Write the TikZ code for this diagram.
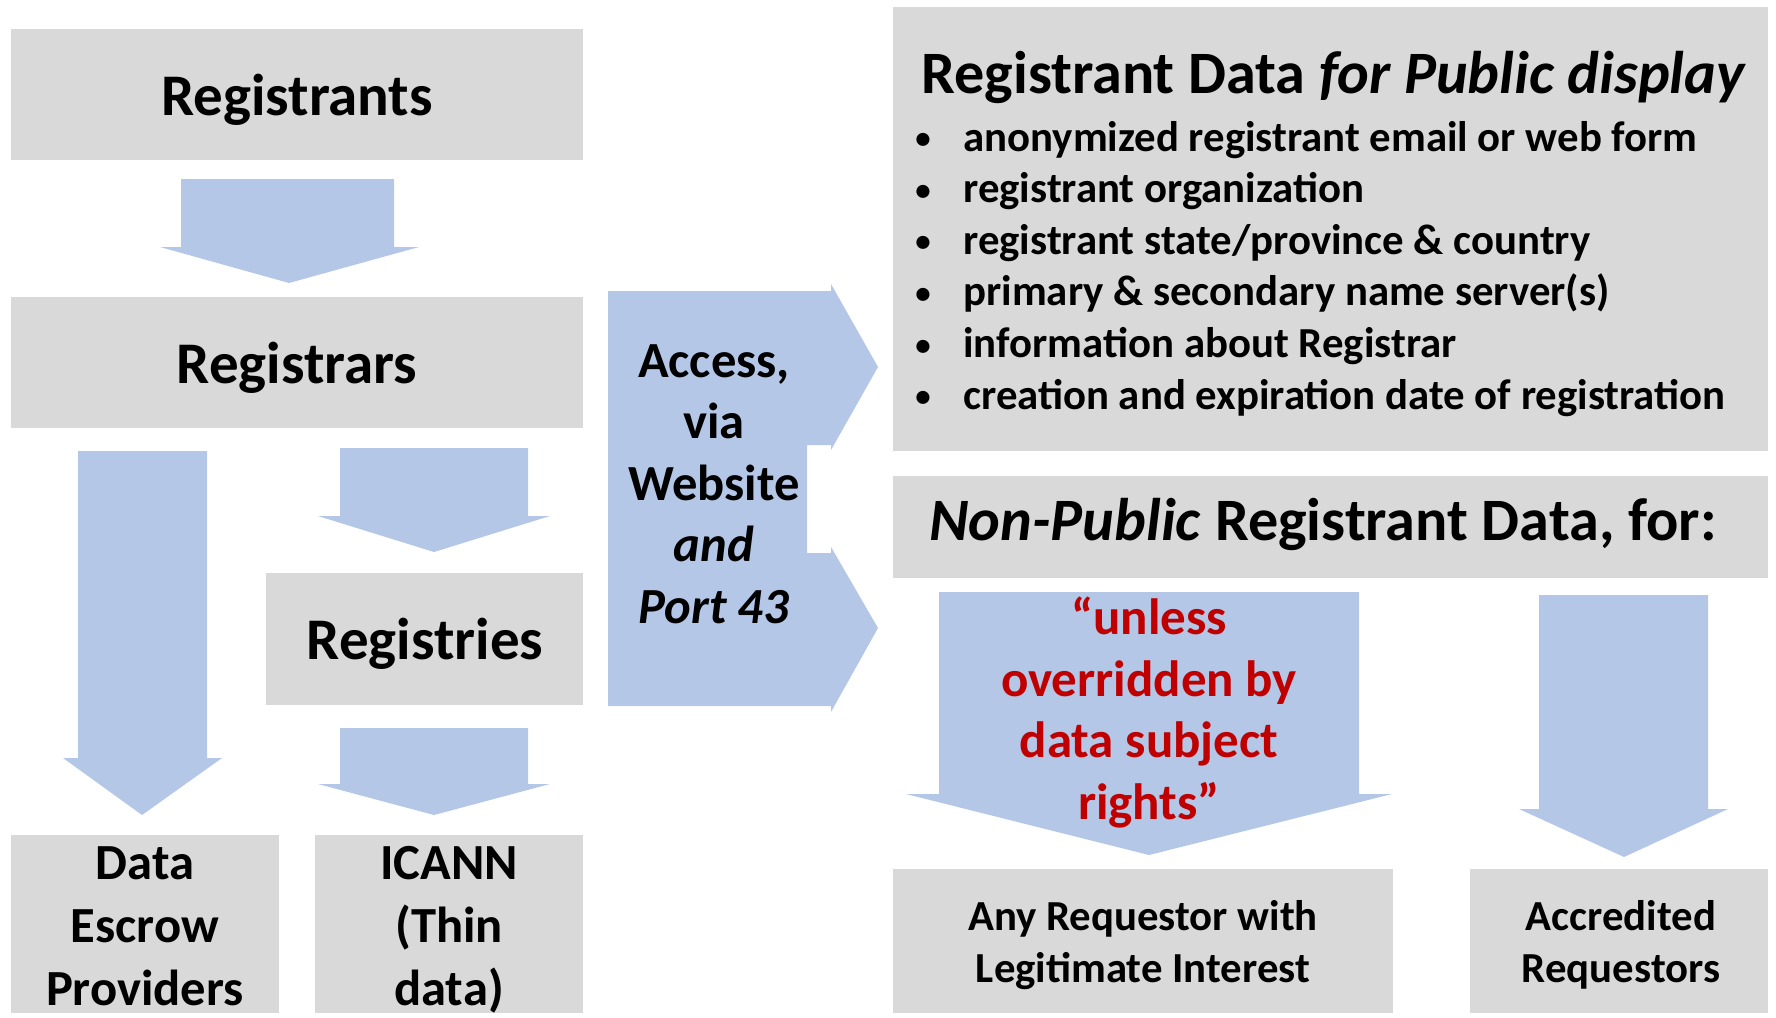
\documentclass[tikz,border=0pt]{standalone}
\usepackage{fontspec}
\setmainfont{Carlito}
\definecolor{boxgray}{HTML}{D9D9D9}
\definecolor{flowblue}{HTML}{B4C7E7}
\definecolor{warnred}{HTML}{C00000}
\newcommand{\itembullet}{\makebox[27pt][l]{\hspace{3pt}\raisebox{1.2pt}{\scalebox{0.72}{•}}}}
\tikzset{
        box/.style={fill=boxgray, inner sep=0pt, anchor=north west},
        flow/.style={fill=flowblue},
        lbl/.style={inner sep=0pt, anchor=base, align=center},
        big/.style={font=\fontsize{29.5}{36}\selectfont\bfseries},
        head/.style={font=\fontsize{30.1}{36}\selectfont\bfseries},
        mid/.style={font=\fontsize{25.3}{31.5}\selectfont\bfseries},
        small/.style={font=\fontsize{21.4}{25.8}\selectfont\bfseries},
        warn/.style={text=warnred, font=\fontsize{25.5}{30.75}\selectfont\bfseries}
          }

\begin{document}
\begin{tikzpicture}[x=0.5pt, y=-0.5pt]
            \useasboundingbox (0,0) rectangle (1776,1017);
            % grey boxes
            \node[box, minimum width=286pt, minimum height=65.5pt] (registrants) at (11,29) {};
            \node[box, minimum width=286pt, minimum height=65.5pt] (registrars) at (11,297) {};
            \node[box, minimum width=158.5pt, minimum height=66pt] (registries) at (266,573) {};
            \node[box, minimum width=134pt, minimum height=89pt] (escrow) at (11,835) {};
            \node[box, minimum width=134pt, minimum height=89pt] (icann) at (315,835) {};
            \node[box, minimum width=437.5pt, minimum height=222pt] (public) at (893,7) {};
            \node[box, minimum width=437.5pt, minimum height=51pt] (nonpublic) at (893,476) {};
            \node[box, minimum width=250pt, minimum height=72pt] (anyreq) at (893,869) {};
            \node[box, minimum width=149pt, minimum height=72pt] (accred) at (1470,869) {};
            % block arrows
            \fill[flow] (181,179) -- (394,179) -- (394,247) -- (419,247) -- (289,283) -- (160,247) -- (181,247) -- cycle;
            \fill[flow] (78,451) -- (207,451) -- (207,758) -- (222,758) -- (142,815) -- (63,758) -- (78,758) -- cycle;
            \fill[flow] (340,448) -- (528,448) -- (528,516) -- (550,516) -- (434,552) -- (318,516) -- (340,516) -- cycle;
            \fill[flow] (340,728) -- (528,728) -- (528,784) -- (550,784) -- (434,815) -- (318,784) -- (340,784) -- cycle;
            \fill[flow] (608,291) -- (831,291) -- (831,284) -- (878,367) -- (831,450) -- (831,445) -- (807,445)
              -- (807,553) -- (831,553) -- (831,547) -- (878,628) -- (831,712) -- (831,706) -- (608,706) -- cycle;
            \fill[flow] (939,592) -- (1359,592) -- (1359,794) -- (1392,794) -- (1149,855) -- (906,794) -- (939,794) -- cycle;
            \fill[flow] (1539,595) -- (1708,595) -- (1708,809) -- (1728,809) -- (1624,857) -- (1519,809) -- (1539,809) -- cycle;
            % texts (multi-line ones sit on their last line)
            \node[lbl, big] (t-registrants) at (297,115) {Registrants};
            \node[lbl, big] (t-registrars) at (297,383) {Registrars};
            \node[lbl, big] (t-registries) at (425,659) {Registries};
            \node[lbl, mid] (t-escrow) at (145,1005) {Data\\Escrow\\Providers};
            \node[lbl, mid] (t-icann) at (449,1005) {ICANN\\(Thin\\data)};
            \node[lbl, mid, font=\fontsize{25.3}{30.75}\selectfont\bfseries] (t-access) at (714,623)
              {Access,\\via\\Website\\\textit{and}\\\textit{Port 43}};
            \node[lbl, head, anchor=base west] (t-public) at (921,93) {Registrant Data \textit{for Public display}};
            \node[lbl, small, anchor=base west, align=left] (t-items) at (909,409)
              {\itembullet anonymized registrant email or web form\\
               \itembullet registrant organization\\
               \itembullet registrant state/province \& country\\
               \itembullet primary \& secondary name server(s)\\
               \itembullet information about Registrar\\
               \itembullet creation and expiration date of registration};
            \node[lbl, head] (t-nonpublic) at (1323,540) {\textit{Non-Public} Registrant Data, for:};
            \node[lbl, warn] (t-unless) at (1149,819) {“unless\\overridden by\\data subject\\rights”};
            \node[lbl, small] (t-anyreq) at (1143,982) {Any Requestor with\\Legitimate Interest};
            \node[lbl, small] (t-accred) at (1621,982) {Accredited\\Requestors};
          \end{tikzpicture}
\end{document}
